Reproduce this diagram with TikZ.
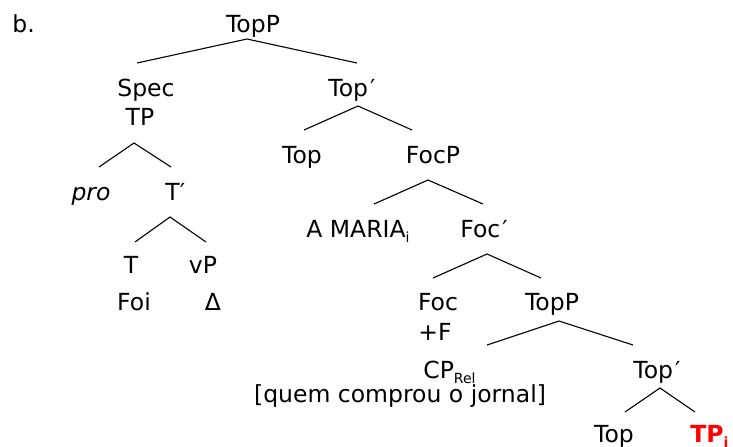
\documentclass[tikz,border=0pt]{standalone}
\usepackage{fontspec}
\setmainfont{DejaVu Sans}
\newcommand{\sbs}[1]{\raisebox{-0.22em}{\fontsize{7}{8}\selectfont #1}}
\begin{document}
\begin{tikzpicture}[x=0.5pt,y=-0.5pt,
  lbl/.style={anchor=base, inner sep=0pt, font=\fontsize{11.75}{14}\selectfont},
  lblw/.style={lbl, anchor=base west},
  br/.style={line width=0.55pt, line join=miter}]
\useasboundingbox (0,0) rectangle (733,446);
% labels
\node[lblw] (b) at (12,32) {b.};
\node[lbl] (topP1) at (253,32) {TopP};
\node[lbl] (spec) at (146,96) {Spec};
\node[lbl] (tp) at (140,125) {TP};
\node[lblw] (topb1) at (328,96) {Top\kern1pt′};
\node[lbl] (top1) at (302,163) {Top};
\node[lbl] (focP) at (433,163) {FocP};
\node[lblw] (maria) at (306,237) {A MARIA\sbs{i}};
\node[lblw] (focb) at (460,237) {Foc\kern1pt′};
\node[lbl, font=\fontsize{11.75}{14}\selectfont\itshape] (pro) at (91,200) {pro};
\node[lblw] (tb) at (165,200) {T′};
\node[lbl] (t) at (131,273) {T};
\node[lbl] (vp) at (203,273) {vP};
\node[lbl] (foi) at (134,310) {Foi};
\node[lbl] (delta) at (213,310) {Δ};
\node[lbl] (foc) at (438,310) {Foc};
\node[lbl] (plusF) at (435,340) {+F};
\node[lbl] (topP2) at (552,310) {TopP};
\node[lblw] (cprel) at (423,378) {CP\sbs{Rel}};
\node[lbl] (quem) at (400,402) {[quem comprou o jornal]};
\node[lblw] (topb2) at (633,378) {Top\kern1pt′};
\node[lbl] (top2) at (614,442) {Top};
\node[lblw, text=red] (tpi) at (690,442) {\textbf{TP}\sbs{\textbf{i}}};
% branch points
\coordinate (a1) at (247,39);  \coordinate (l1) at (137,63);  \coordinate (r1) at (357,63);
\coordinate (a2) at (358,106); \coordinate (l2) at (304,130); \coordinate (r2) at (412,130);
\coordinate (a3) at (428,180); \coordinate (l3) at (374,204); \coordinate (r3) at (483,204);
\coordinate (a4) at (487,254); \coordinate (l4) at (433,278); \coordinate (r4) at (541,278);
\coordinate (a5) at (559,321); \coordinate (l5) at (487,345); \coordinate (r5) at (633,345);
\coordinate (a6) at (660,388); \coordinate (l6) at (625,412); \coordinate (r6) at (695,412);
\coordinate (a7) at (134,143); \coordinate (l7) at (99,167);  \coordinate (r7) at (171,167);
\coordinate (a8) at (170,217); \coordinate (l8) at (135,242); \coordinate (r8) at (206,242);
\foreach \i in {1,...,8} {\draw[br] (l\i) -- (a\i) -- (r\i);}
\end{tikzpicture}
\end{document}
